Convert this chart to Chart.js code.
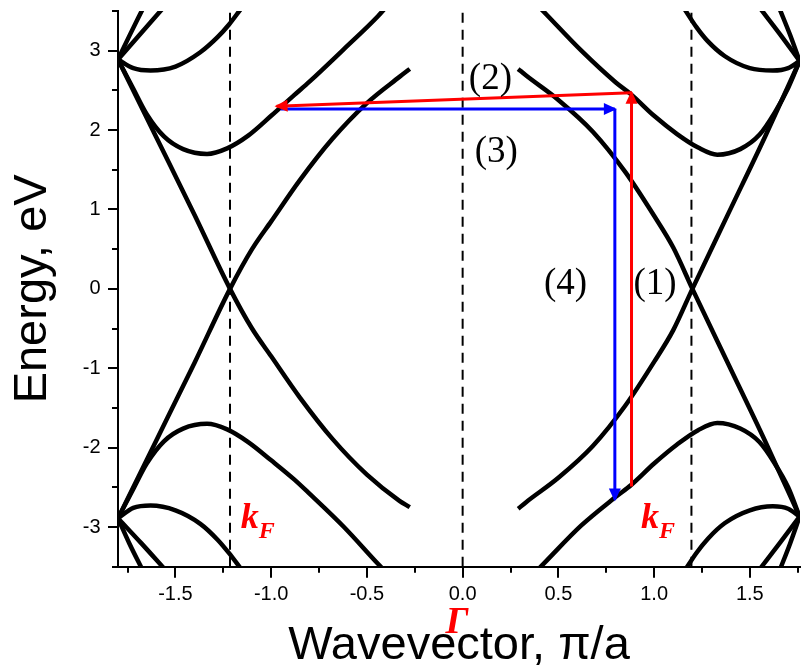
<!DOCTYPE html>
<html>
<head>
<meta charset="utf-8">
<script src="https://cdn.jsdelivr.net/npm/chart.js@4.4.1/dist/chart.umd.min.js"></script>
<style>
  html, body { margin: 0; padding: 0; background: #fff; overflow: hidden; }
</style>
</head>
<body>
<canvas id="chart" width="801" height="671"></canvas>
<script>
// band lines crossing at kF (left half)
var kDiracL   = [-1.80, -1.60, -1.40, -1.215, -1.10, -1.00, -0.85, -0.68, -0.50, -0.33, -0.276];
var eDiracUpL = [-2.89, -1.91, -0.93, 0, 0.50, 0.85, 1.37, 1.89, 2.34, 2.67, 2.77];
var eDiracDnL = [2.89, 1.91, 0.93, 0, -0.50, -0.85, -1.37, -1.89, -2.34, -2.67, -2.75];
// band lines crossing at kF (right half)
var kDiracR   = [0.29, 0.33, 0.50, 0.68, 0.85, 1.00, 1.10, 1.20, 1.39, 1.58, 1.76];
var eDiracAR  = [2.77, 2.69, 2.38, 1.98, 1.47, 0.92, 0.52, 0, -0.96, -1.92, -2.87];
var eDiracBR  = [-2.77, -2.69, -2.38, -1.98, -1.47, -0.92, -0.52, 0, 0.96, 1.92, 2.87];

// gapped bands around +-1.7 eV
var kP1L   = [-1.80, -1.72, -1.65, -1.56, -1.46, -1.335, -1.23, -1.12, -1.00, -0.88, -0.80, -0.62, -0.44, -0.40];
var eP1UpL = [2.89, 2.52, 2.20, 1.92, 1.76, 1.70, 1.77, 1.93, 2.18, 2.44, 2.61, 3.02, 3.44, 3.55];
var eP1DnL = [-2.89, -2.52, -2.20, -1.92, -1.76, -1.70, -1.77, -1.93, -2.16, -2.40, -2.58, -3.00, -3.47, -3.57];
var kP1R   = [0.40, 0.44, 0.62, 0.80, 0.88, 1.00, 1.12, 1.23, 1.33, 1.45, 1.55, 1.63, 1.70, 1.76];
var eP1UpR = [3.55, 3.45, 3.00, 2.60, 2.45, 2.18, 1.95, 1.78, 1.69, 1.76, 1.94, 2.22, 2.53, 2.87];
var eP1DnR = [-3.52, -3.42, -2.98, -2.62, -2.47, -2.20, -1.96, -1.78, -1.69, -1.76, -1.93, -2.20, -2.50, -2.87];

// small bands near the zone edge
var kP2L   = [-1.80, -1.72, -1.63, -1.50, -1.37, -1.28, -1.22, -1.16];
var eP2UpL = [2.89, 2.78, 2.75, 2.80, 2.98, 3.17, 3.33, 3.52];
var eP2DnL = [-2.89, -2.76, -2.73, -2.79, -2.96, -3.16, -3.33, -3.52];
var kP2R   = [1.16, 1.22, 1.28, 1.37, 1.50, 1.62, 1.70, 1.76];
var eP2UpR = [3.52, 3.30, 3.12, 2.93, 2.78, 2.75, 2.78, 2.87];
var eP2DnR = [-3.55, -3.33, -3.15, -2.95, -2.79, -2.74, -2.77, -2.87];

// steep bands leaving the corners
var kS1L   = [-1.80, -1.74, -1.67];
var eS1UpL = [2.89, 3.19, 3.53];
var eS1DnL = [-2.89, -3.21, -3.55];
var kS2L   = [-1.80, -1.68, -1.56];
var eS2UpL = [2.89, 3.22, 3.55];
var eS2DnL = [-2.89, -3.20, -3.52];
var kS1R   = [1.655, 1.71, 1.76];
var eS1UpR = [3.53, 3.20, 2.87];
var eS1DnR = [-3.55, -3.21, -2.87];
var kS2R   = [1.555, 1.66, 1.76];
var eS2UpR = [3.53, 3.20, 2.87];
var eS2DnR = [-3.52, -3.19, -2.87];

// dashed markers: -kF, Gamma, +kF
var kMarks = [-1.215, 0, 1.195];

// transitions (1)-(4)
var k1 = [0.882, 0.882],  e1 = [-2.49, 2.47];
var k2 = [0.882, -0.972], e2 = [2.47, 2.30];
var k3 = [-0.95, 0.795],  e3 = [2.264, 2.264];
var k4 = [0.795, 0.795],  e4 = [2.264, -2.655];

// ticks
var xMajor  = [-1.5, -1.0, -0.5, 0.0, 0.5, 1.0, 1.5];
var xLabels = ['-1.5', '-1.0', '-0.5', '0.0', '0.5', '1.0', '1.5'];
var xMinor  = [-1.75, -1.25, -0.75, -0.25, 0.25, 0.75, 1.25, 1.75];
var yMajor  = [-3, -2, -1, 0, 1, 2, 3];
var yLabels = ['-3', '-2', '-1', '0', '1', '2', '3'];
var yMinor  = [-3.5, -2.5, -1.5, -0.5, 0.5, 1.5, 2.5, 3.5];

// text labels
var notes = [
  {text: '(1)', k: 1.005, e: -0.07},
  {text: '(2)', k: 0.145, e: 2.517},
  {text: '(3)', k: 0.176, e: 1.596},
  {text: '(4)', k: 0.537, e: -0.07}
];
var kfNotes = [{k: -1.159, e: -3.009}, {k: 0.931, e: -3.009}];
var gammaNote = {k: -0.03, e: -4.333};

var SANS = '"Liberation Sans", Arial, sans-serif';
var SERIF = '"Liberation Serif", "Times New Roman", serif';

function pts(k, e) {
  return k.map(function (v, i) { return {x: v, y: e[i]}; });
}

var bands = [
  [kDiracL, eDiracUpL], [kDiracL, eDiracDnL], [kDiracR, eDiracAR], [kDiracR, eDiracBR],
  [kP1L, eP1UpL], [kP1L, eP1DnL], [kP1R, eP1UpR], [kP1R, eP1DnR],
  [kP2L, eP2UpL], [kP2L, eP2DnL], [kP2R, eP2UpR], [kP2R, eP2DnR],
  [kS1L, eS1UpL], [kS1L, eS1DnL], [kS2L, eS2UpL], [kS2L, eS2DnL],
  [kS1R, eS1UpR], [kS1R, eS1DnR], [kS2R, eS2UpR], [kS2R, eS2DnR]
];

var datasets = [];
bands.forEach(function (b) {
  datasets.push({
    data: pts(b[0], b[1]),
    borderColor: '#000',
    borderWidth: 4.5,
    pointRadius: 0,
    cubicInterpolationMode: 'monotone',
    fill: false,
    clip: 0,
    order: 2
  });
});
kMarks.forEach(function (k) {
  datasets.push({
    data: pts([k, k], [-3.5, 3.5]),
    borderColor: '#000',
    borderWidth: 2,
    borderDash: [10, 7],
    pointRadius: 0,
    tension: 0,
    clip: 0,
    order: 3
  });
});
[[k3, e3, '#0000ff', 1], [k4, e4, '#0000ff', 1], [k1, e1, '#ff0000', 0], [k2, e2, '#ff0000', 0]].forEach(function (a) {
  datasets.push({
    data: pts(a[0], a[1]),
    borderColor: a[2],
    borderWidth: 3,
    pointRadius: 0,
    tension: 0,
    clip: 0,
    order: a[3],
    arrow: true
  });
});

function noPad(s) {
  s.paddingTop = 0; s.paddingBottom = 0; s.paddingLeft = 0; s.paddingRight = 0;
}

var overlay = {
  id: 'overlay',
  afterDatasetsDraw: function (chart) {
    var ctx = chart.ctx;
    chart.data.datasets.forEach(function (ds, i) {
      if (!ds.arrow) return;
      var p = chart.getDatasetMeta(i).data;
      var a = p[p.length - 2], b = p[p.length - 1];
      var ang = Math.atan2(b.y - a.y, b.x - a.x);
      ctx.save();
      ctx.translate(b.x, b.y);
      ctx.rotate(ang);
      ctx.fillStyle = ds.borderColor;
      ctx.beginPath();
      ctx.moveTo(2, 0);
      ctx.lineTo(-11, -6);
      ctx.lineTo(-11, 6);
      ctx.closePath();
      ctx.fill();
      ctx.restore();
    });
  },
  afterDraw: function (chart) {
    var ctx = chart.ctx, xs = chart.scales.x, ys = chart.scales.y, area = chart.chartArea;
    ctx.save();
    ctx.strokeStyle = '#000';
    ctx.lineWidth = 2;
    ctx.beginPath();
    xMajor.forEach(function (v) {
      var px = Math.round(xs.getPixelForValue(v));
      ctx.moveTo(px, area.bottom); ctx.lineTo(px, area.bottom + 11);
    });
    xMinor.forEach(function (v) {
      var px = Math.round(xs.getPixelForValue(v));
      ctx.moveTo(px, area.bottom); ctx.lineTo(px, area.bottom + 6);
    });
    yMajor.forEach(function (v) {
      var py = Math.round(ys.getPixelForValue(v));
      ctx.moveTo(area.left, py); ctx.lineTo(area.left - 10, py);
    });
    yMinor.forEach(function (v) {
      var py = Math.round(ys.getPixelForValue(v));
      ctx.moveTo(area.left, py); ctx.lineTo(area.left - 6, py);
    });
    ctx.stroke();

    ctx.fillStyle = '#000';
    ctx.font = '37px ' + SERIF;
    ctx.textAlign = 'center';
    ctx.textBaseline = 'alphabetic';
    notes.forEach(function (n) {
      ctx.fillText(n.text, xs.getPixelForValue(n.k), ys.getPixelForValue(n.e));
    });

    ctx.fillStyle = '#ff0000';
    ctx.textAlign = 'left';
    kfNotes.forEach(function (n) {
      var px = xs.getPixelForValue(n.k), py = ys.getPixelForValue(n.e);
      ctx.font = 'bold italic 36px ' + SERIF;
      ctx.fillText('k', px, py);
      ctx.font = 'bold italic 24px ' + SERIF;
      ctx.fillText('F', px + 18, py + 10);
    });
    ctx.font = 'bold italic 38px ' + SERIF;
    ctx.textAlign = 'center';
    ctx.fillText('\u0393', xs.getPixelForValue(gammaNote.k), ys.getPixelForValue(gammaNote.e));
    ctx.restore();
  }
};

new Chart(document.getElementById('chart').getContext('2d'), {
  type: 'line',
  data: {datasets: datasets},
  plugins: [overlay],
  options: {
    responsive: false,
    animation: false,
    events: [],
    layout: {padding: {top: 11, right: 1, left: 0, bottom: 0}},
    plugins: {legend: {display: false}, tooltip: {enabled: false}},
    scales: {
      x: {
        type: 'linear',
        min: -1.8,
        max: 1.762,
        afterBuildTicks: function (s) { s.ticks = xMajor.map(function (v) { return {value: v}; }); },
        afterFit: function (s) { s.height = 104.3; noPad(s); },
        grid: {display: false, drawTicks: false},
        border: {display: true, color: '#000', width: 2},
        ticks: {
          autoSkip: false, maxRotation: 0, minRotation: 0,
          padding: 15.5, color: '#000',
          font: {family: SANS, size: 20},
          callback: function (v, i) { return xLabels[i]; }
        },
        title: {
          display: true, text: 'Wavevector, \u03c0/a', color: '#000',
          font: {family: SANS, size: 47, lineHeight: 1},
          padding: {top: 0, bottom: 1.8}
        }
      },
      y: {
        type: 'linear',
        min: -3.5,
        max: 3.5,
        afterBuildTicks: function (s) { s.ticks = yMajor.map(function (v) { return {value: v}; }); },
        afterFit: function (s) { s.width = 118; noPad(s); },
        grid: {display: false, drawTicks: false},
        border: {display: true, color: '#000', width: 2},
        ticks: {
          autoSkip: false, padding: 17.5, color: '#000',
          font: {family: SANS, size: 20},
          callback: function (v, i) { return yLabels[i]; }
        },
        title: {
          display: true, text: 'Energy, eV', color: '#000',
          font: {family: SANS, size: 47},
          padding: {top: 4.5, bottom: 0}
        }
      }
    }
  }
});
</script>
</body>
</html>
